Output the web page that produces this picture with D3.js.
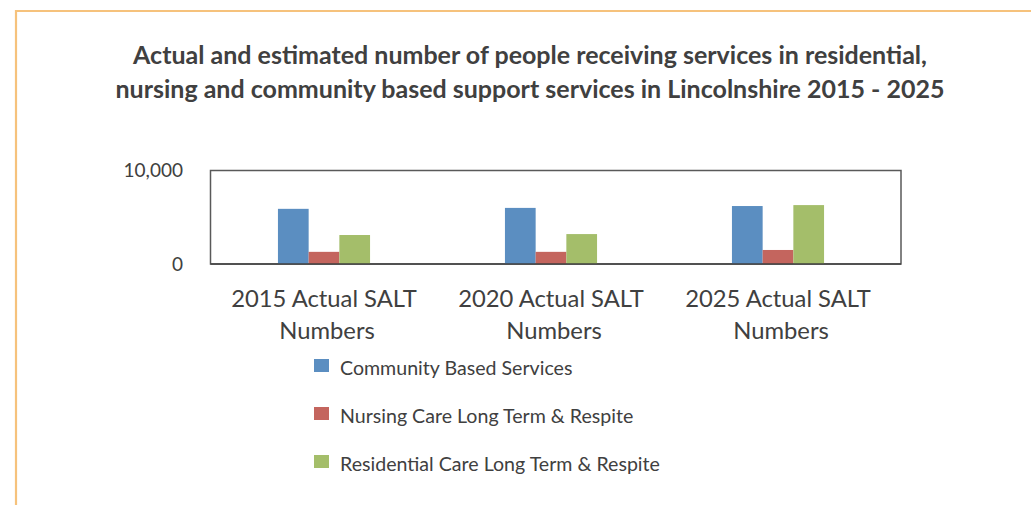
<!DOCTYPE html>
<html><head><meta charset="utf-8">
<script src="https://cdn.jsdelivr.net/npm/d3@7"></script>
<style>
body{margin:0;background:#fff;}
svg{display:block;}
text{font-family:Lato,"Open Sans",sans-serif;}
</style></head>
<body><svg id="c" width="1031" height="505"></svg>
<script>
const categories = ["2015 Actual SALT Numbers","2020 Actual SALT Numbers","2025 Actual SALT Numbers"];
const seriesNames = ["Community Based Services","Nursing Care Long Term & Respite","Residential Care Long Term & Respite"];
const communityBased = [5900, 6000, 6200];
const nursingCare = [1300, 1300, 1500];
const residentialCare = [3100, 3200, 6300];
const yTicks = [0, 10000];
const titleLines = ["Actual and estimated number of people receiving services in residential,","nursing and community based support services in Lincolnshire 2015 - 2025"];
const colors = ["#5B8EC1","#C4655E","#A4BE6A"];

const seriesValues = [communityBased, nursingCare, residentialCare];
const svg = d3.select("#c");

// frame
svg.append("path").attr("d","M16,520 L16,11 L1040,11").attr("fill","none").attr("stroke","#F6C27C").attr("stroke-width",2.2);

// title
svg.append("g").selectAll("text").data(titleLines).join("text")
  .attr("x",530).attr("y",(d,i)=>64+i*34).attr("text-anchor","middle")
  .attr("font-size",25).attr("font-weight","bold").attr("fill","#404040").text(d=>d);

const L=210.5,R=901,T=170.5,B=264;
const x = d3.scaleBand().domain(categories).range([L,891.5]).paddingInner(0).paddingOuter(0);
const y = d3.scaleLinear().domain([0,10000]).range([B,T]);
const bw = 30.7;
const xs = d3.scaleBand().domain(d3.range(3)).range([-1.5*bw,1.5*bw]);

// plot box
svg.append("rect").attr("x",L).attr("y",T).attr("width",R-L).attr("height",B-T)
  .attr("fill","none").attr("stroke","#595959").attr("stroke-width",1.5);

const g = svg.append("g");
seriesValues.forEach((vals,si)=>{
  g.selectAll(null).data(vals).join("rect")
    .attr("x",(d,i)=>x(categories[i])+x.bandwidth()/2+xs(si))
    .attr("width",xs.bandwidth())
    .attr("y",d=>y(d)).attr("height",d=>B-y(d))
    .attr("fill",colors[si]);
});
svg.append("line").attr("x1",L).attr("x2",R).attr("y1",B).attr("y2",B).attr("stroke","#404040").attr("stroke-width",1.5);

// y axis labels
const yAxis = d3.axisLeft(y).tickValues(yTicks).tickSize(0).tickPadding(0).tickFormat(d3.format(","));
const ya = svg.append("g").attr("transform",`translate(183,0)`).call(yAxis);
ya.select(".domain").remove();
ya.selectAll("text").attr("font-size",19).attr("fill","#404040").attr("font-family","Lato,'Open Sans',sans-serif");

// x labels
const xa = svg.append("g");
categories.forEach(c=>{
  const words = c.split(" ");
  const l1 = words.slice(0,3).join(" "), l2 = words.slice(3).join(" ");
  const t = xa.append("text").attr("text-anchor","middle").attr("font-size",23.8).attr("fill","#404040");
  t.append("tspan").attr("x",x(c)+x.bandwidth()/2).attr("y",307).text(l1);
  t.append("tspan").attr("x",x(c)+x.bandwidth()/2+3).attr("y",339).text(l2);
});

// legend
const lg = svg.append("g");
seriesNames.forEach((n,i)=>{
  lg.append("rect").attr("x",314).attr("y",359+i*48).attr("width",15).attr("height",13).attr("fill",colors[i]);
  lg.append("text").attr("x",340).attr("y",375+i*48).attr("font-size",19.6).attr("fill","#404040").text(n);
});
</script></body></html>
